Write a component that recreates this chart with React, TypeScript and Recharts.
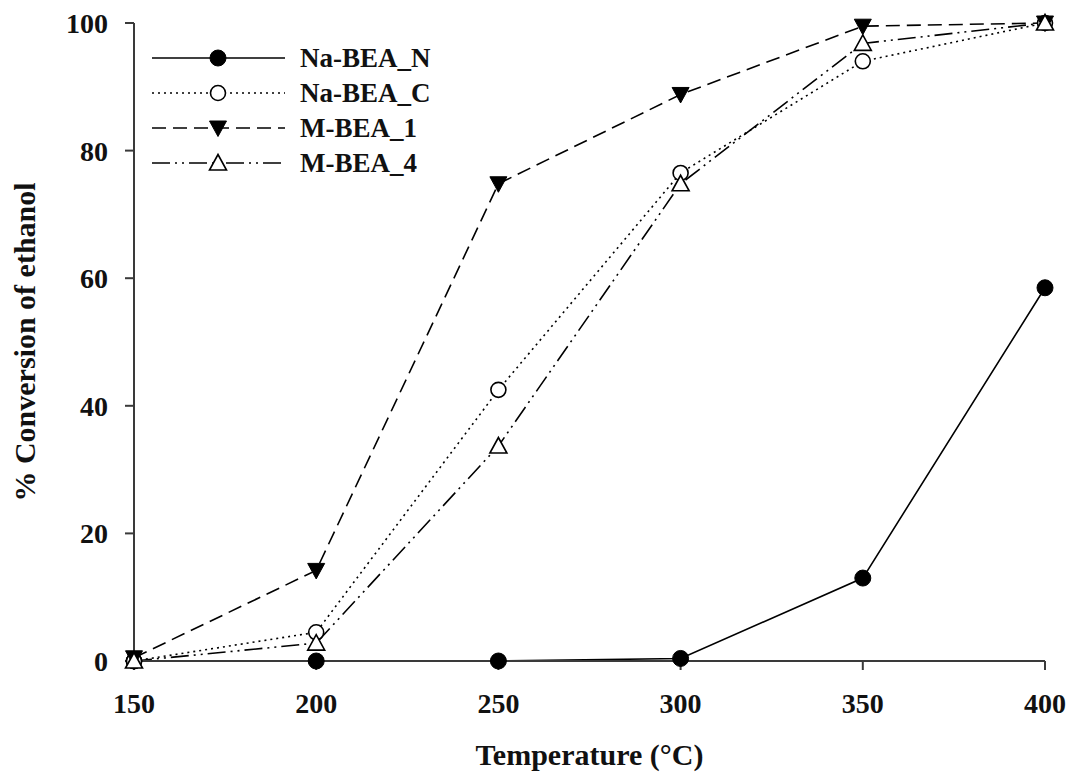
import React from 'react';
import {
  LineChart,
  Line,
  XAxis,
  YAxis,
  Legend,
  Label,
} from 'recharts';

// Temperature steps (°C)
const TEMPS = [150, 200, 250, 300, 350, 400];

// % conversion of ethanol per catalyst
const NA_BEA_N = [0, 0, 0, 0.4, 13, 58.5];
const NA_BEA_C = [0, 4.5, 42.5, 76.5, 94, 100];
const M_BEA_1 = [0.5, 14.2, 74.8, 88.8, 99.5, 100];
const M_BEA_4 = [0, 2.8, 33.7, 74.8, 96.8, 100];

const X_TICKS = [150, 200, 250, 300, 350, 400];
const Y_TICKS = [0, 20, 40, 60, 80, 100];

const FONT = '"Liberation Serif", "Times New Roman", serif';
const AXIS_COLOR = '#3a3a3a';

const data = TEMPS.map((t, i) => ({
  temp: t,
  naN: NA_BEA_N[i],
  naC: NA_BEA_C[i],
  m1: M_BEA_1[i],
  m4: M_BEA_4[i],
}));

type Marker = 'filledCircle' | 'openCircle' | 'downTriangle' | 'upTriangle';

const drawMarker = (kind: Marker, cx: number, cy: number, key?: string) => {
  switch (kind) {
    case 'filledCircle':
      return <circle key={key} cx={cx} cy={cy} r={8} fill="#000" stroke="#000" strokeWidth={1} />;
    case 'openCircle':
      return <circle key={key} cx={cx} cy={cy} r={7.5} fill="#fff" stroke="#000" strokeWidth={1.6} />;
    case 'downTriangle':
      return (
        <path
          key={key}
          d={`M${cx - 8.5},${cy - 7} L${cx + 8.5},${cy - 7} L${cx},${cy + 8.5} Z`}
          fill="#000"
          stroke="#000"
          strokeWidth={1}
        />
      );
    default:
      return (
        <path
          key={key}
          d={`M${cx - 8.5},${cy + 7} L${cx + 8.5},${cy + 7} L${cx},${cy - 8.5} Z`}
          fill="#fff"
          stroke="#000"
          strokeWidth={1.6}
        />
      );
  }
};

const SERIES: Array<{ key: string; name: string; dash?: string; marker: Marker }> = [
  { key: 'naN', name: 'Na-BEA_N', marker: 'filledCircle' },
  { key: 'naC', name: 'Na-BEA_C', dash: '2 4', marker: 'openCircle' },
  { key: 'm1', name: 'M-BEA_1', dash: '14 7', marker: 'downTriangle' },
  { key: 'm4', name: 'M-BEA_4', dash: '18 5 2 5 2 5', marker: 'upTriangle' },
];

const LegendBox = () => (
  <svg width={320} height={150} style={{ display: 'block' }}>
    {SERIES.map((s, i) => {
      const y = 20 + i * 35;
      return (
        <g key={s.key}>
          <line
            x1={12}
            x2={145}
            y1={y}
            y2={y}
            stroke="#000"
            strokeWidth={1.6}
            strokeDasharray={s.dash}
          />
          {drawMarker(s.marker, 78, y)}
          <text
            x={160}
            y={y + 9}
            fontFamily={FONT}
            fontWeight="bold"
            fontSize={27}
            fill="#111"
          >
            {s.name}
          </text>
        </g>
      );
    })}
  </svg>
);

export default function App() {
  return (
    <div style={{ position: 'absolute', left: 0, top: 0, background: '#fff' }}>
      <LineChart
        width={1071}
        height={778}
        data={data}
        margin={{ top: 23, right: 26, left: 54, bottom: 0 }}
      >
        <XAxis
          dataKey="temp"
          type="number"
          domain={[150, 400]}
          ticks={X_TICKS}
          height={117}
          axisLine={{ stroke: AXIS_COLOR, strokeWidth: 2 }}
          tickLine={{ stroke: AXIS_COLOR, strokeWidth: 2 }}
          tickSize={9}
          tickMargin={23}
          tick={{ fontFamily: FONT, fontWeight: 'bold', fontSize: 28, fill: '#111' }}
        >
          <Label
            content={({ viewBox }: any) => (
              <text
                x={viewBox.x + viewBox.width / 2}
                y={765}
                textAnchor="middle"
                fontFamily={FONT}
                fontWeight="bold"
                fontSize={30}
                fill="#111"
              >
                Temperature (°C)
              </text>
            )}
          />
        </XAxis>
        <XAxis
          xAxisId="top"
          orientation="top"
          type="number"
          dataKey="temp"
          domain={[150, 400]}
          height={0}
          tick={false}
          tickLine={false}
          axisLine={{ stroke: AXIS_COLOR, strokeWidth: 2 }}
        />
        <YAxis
          type="number"
          domain={[0, 100]}
          ticks={Y_TICKS}
          width={80}
          axisLine={{ stroke: AXIS_COLOR, strokeWidth: 2 }}
          tickLine={{ stroke: AXIS_COLOR, strokeWidth: 2 }}
          tickSize={9}
          tickMargin={17}
          tick={{ fontFamily: FONT, fontWeight: 'bold', fontSize: 28, fill: '#111' }}
        >
          <Label
            content={({ viewBox }: any) => {
              const cy = viewBox.y + viewBox.height / 2;
              return (
                <text
                  x={35}
                  y={cy}
                  transform={`rotate(-90 35 ${cy})`}
                  textAnchor="middle"
                  fontFamily={FONT}
                  fontWeight="bold"
                  fontSize={30}
                  fill="#111"
                >
                  % Conversion of ethanol
                </text>
              );
            }}
          />
        </YAxis>
        <YAxis
          yAxisId="right"
          orientation="right"
          type="number"
          domain={[0, 100]}
          width={0}
          tick={false}
          tickLine={false}
          axisLine={{ stroke: AXIS_COLOR, strokeWidth: 2 }}
        />
        <Legend
          layout="horizontal"
          verticalAlign="middle"
          align="center"
          content={() => <LegendBox />}
          wrapperStyle={{ top: 38, left: 140, width: 320 }}
        />
        {SERIES.map((s) => (
          <Line
            key={s.key}
            dataKey={s.key}
            name={s.name}
            type="linear"
            stroke="#000"
            strokeWidth={1.6}
            strokeDasharray={s.dash}
            dot={(p: any) => drawMarker(s.marker, p.cx, p.cy, `${s.key}-${p.index}`)}
            activeDot={false}
            isAnimationActive={false}
          />
        ))}
      </LineChart>
    </div>
  );
}
